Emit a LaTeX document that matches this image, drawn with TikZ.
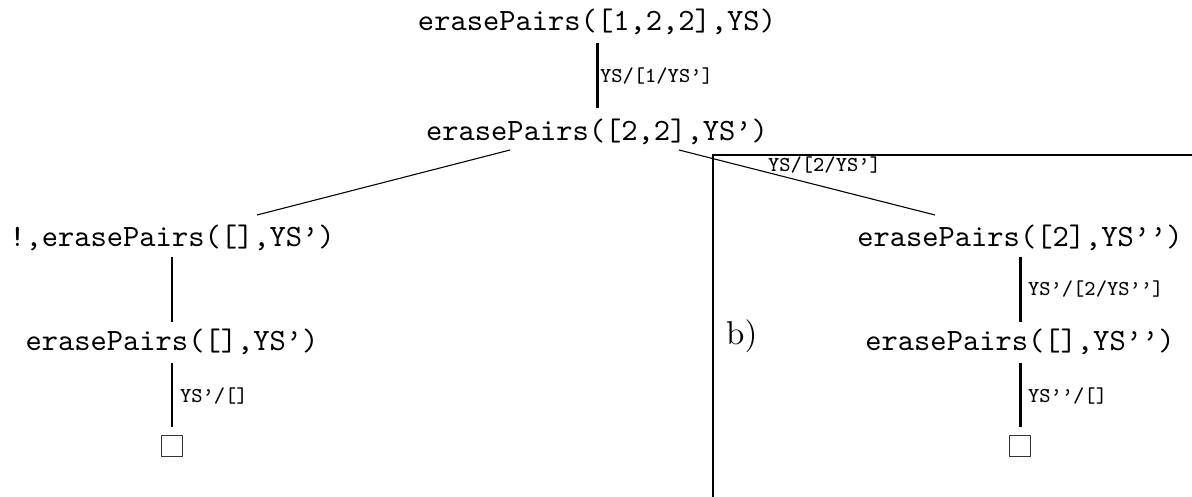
\documentclass[tikz,border=0pt]{standalone}
\usepackage{fontspec}
\usetikzlibrary{calc}
\newfontfamily\goalfont{lmmono10-regular}[Extension=.otf]
\newfontfamily\labfont{lmmono8-regular}[Extension=.otf]
\newfontfamily\tagfont{lmroman10-regular}[Extension=.otf]
\tikzset{
  goal/.style={font=\fontsize{31}{36}\selectfont\goalfont, inner sep=0pt, anchor=base},
  lab/.style={font=\fontsize{21.2}{24}\selectfont\labfont, inner sep=0pt, anchor=base west},
  tag/.style={font=\fontsize{33}{38}\selectfont\tagfont, inner sep=0pt, anchor=base west},
  thickedge/.style={line width=3pt},
  midedge/.style={line width=2pt},
  thinedge/.style={line width=1.1pt},
  frameline/.style={line width=2.5pt},
  emptybox/.style={draw=black!80, line width=1.5pt, minimum size=21pt, inner sep=0pt},
}
\begin{document}
\begin{tikzpicture}[x=1pt,y=-1pt]
\useasboundingbox (0,0) rectangle (1192,497);
% nodes
\node[goal] (root) at (597,31) {erasePairs([1,2,2],YS)};
\node[goal] (n2) at (597,141) {erasePairs([2,2],YS’)};
\node[goal] (l1) at (172,247) {!,erasePairs([],YS’)};
\node[goal] (r1) at (1020,247) {erasePairs([2],YS’’)};
\node[goal] (l2) at (172,350) {erasePairs([],YS’)};
\node[goal] (r2) at (1020,350) {erasePairs([],YS’’)};
\node[emptybox] (l3) at (172,446) {};
\node[emptybox] (r3) at (1020,446) {};
% frame
\coordinate (fc) at (713,155);
\coordinate (fr) at (1192,155);
\coordinate (fb) at (713,497);
\draw[frameline] (fr) -- (fc) -- (fb);
\node[tag] (btag) at (726,344) {b)};
% edges
\draw[thickedge] ($(root.base)+(0,12)$) -- ($(n2.base)+(0,-33)$);
\node[lab] (e1) at (600,83) {YS/[1/YS’]};
\draw[thinedge] ($(n2.base)+(-87,9)$) -- ($(l1.base)+(85,-32)$);
\draw[thinedge] ($(n2.base)+(82,9)$) -- ($(r1.base)+(-85,-32)$);
\node[lab] (e2) at (768,172) {YS/[2/YS’]};
\draw[midedge] ($(l1.base)+(0,10)$) -- ($(l2.base)+(0,-28)$);
\draw[thickedge] ($(r1.base)+(0,10)$) -- ($(r2.base)+(0,-28)$);
\node[lab] (e3) at (1028,295) {YS’/[2/YS’’]};
\draw[midedge] ($(l2.base)+(0,13)$) -- (l3.north |- 0,427);
\node[lab] (e4) at (180,402) {YS’/[]};
\draw[thickedge] ($(r2.base)+(0,13)$) -- (r3.north |- 0,427);
\node[lab] (e5) at (1028,402) {YS’’/[]};
\end{tikzpicture}
\end{document}
